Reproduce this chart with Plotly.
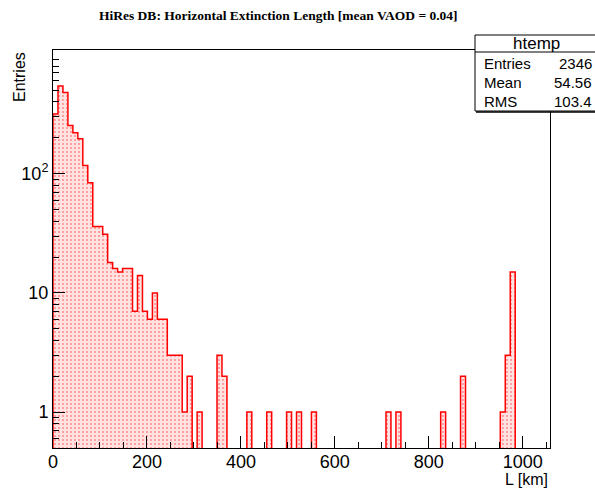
import math
import plotly.graph_objects as go

# ---- data ----
x_min = 0.0
x_max = 1058.0
n_bins = 100
counts = [
    316, 545, 479, 253, 220, 196, 117, 84, 36, 36,
    31, 18, 16, 15, 16, 16, 7, 14, 7, 6,
    10, 6, 6, 3, 3, 3, 1, 2, 0, 1,
    0, 0, 0, 3, 2, 0, 0, 0, 0, 1,
    0, 0, 0, 1, 0, 0, 0, 1, 0, 1,
    0, 0, 1, 0, 0, 0, 0, 0, 0, 0,
    0, 0, 0, 0, 0, 0, 0, 1, 0, 1,
    0, 0, 0, 0, 0, 0, 0, 0, 1, 0,
    0, 0, 2, 0, 0, 0, 0, 0, 0, 0,
    1, 3, 15, 0, 0, 0, 0, 0, 0, 0,
]
x_ticks = [0, 200, 400, 600, 800, 1000]
y_ticks = [1, 10, 100]
y_tick_labels = ["1", "10", "10<sup>2</sup>"]
title_text = "HiRes DB: Horizontal Extinction Length [mean VAOD = 0.04]"
stats_name = "htemp"
stats_labels = ["Entries", "Mean", "RMS"]
stats_values = ["2346", "54.56", "103.4"]
y_lo, y_hi = 0.5, 1090.0

# ---- derived geometry ----
W, H = 595, 488
ML, MR, MT, MB = 53, 45, 50, 40
PW, PH = W - ML - MR, H - MT - MB

def px(xp):
    return (xp - ML) / PW

def py(yp):
    return (H - MB - yp) / PH

bw = (x_max - x_min) / n_bins
edges = [x_min + i * bw for i in range(n_bins + 1)]
centers = [x_min + (i + 0.5) * bw for i in range(n_bins)]
bar_y = [c if c > 0 else None for c in counts]

low = 0.05
step_x = [edges[0]] + edges[:-1] + [edges[-1]]
step_y = [low] + [c if c > 0 else low for c in counts] + [low]

fig = go.Figure()
fig.add_trace(go.Bar(
    x=centers, y=bar_y, width=bw,
    marker=dict(color="#ffe4e4", line=dict(width=0),
                pattern=dict(shape=".", fgcolor="#ff3a3a", bgcolor="#ffe2e2",
                             size=4, solidity=0.22)),
    showlegend=False, hoverinfo="skip",
))
fig.add_trace(go.Scatter(
    x=step_x, y=step_y, mode="lines", line=dict(color="#ff0000", width=1.5, shape="hv"),
    showlegend=False, hoverinfo="skip",
))

minor_y = []
for d in [0.1, 1, 10, 100, 1000]:
    for k in range(2, 10):
        v = k * d
        if y_lo <= v <= y_hi:
            minor_y.append(v)

axis_font = dict(family="Liberation Sans, Arial, sans-serif", size=18, color="black")
fig.update_layout(
    width=W, height=H,
    margin=dict(l=ML, r=MR, t=MT, b=MB),
    paper_bgcolor="white", plot_bgcolor="white",
    bargap=0,
    xaxis=dict(range=[x_min, x_max], tickvals=x_ticks, ticks="inside", ticklen=12,
               tickcolor="black", showline=True, linecolor="black", linewidth=1,
               mirror=True, showgrid=False, zeroline=False, tickfont=axis_font,
               ticklabelstandoff=-3,
               minor=dict(dtick=50, tick0=0, ticks="inside", ticklen=6, tickcolor="black",
                          showgrid=False)),
    yaxis=dict(type="log", range=[math.log10(y_lo), math.log10(y_hi)],
               tickvals=y_ticks, ticktext=y_tick_labels, ticks="inside", ticklen=12,
               tickcolor="black", showline=True, linecolor="black", linewidth=1,
               mirror=True, showgrid=False, zeroline=False, tickfont=axis_font,
               minor=dict(tickvals=minor_y, ticks="inside", ticklen=6, tickcolor="black",
                          showgrid=False)),
)

ann = []
ann.append(dict(text="<b>" + title_text + "</b>", x=px(278), y=py(15), xref="paper", yref="paper",
                xanchor="center", yanchor="middle", showarrow=False,
                font=dict(family="Liberation Serif, Times New Roman, serif", size=13.5, color="black")))
ann.append(dict(text="Entries", x=px(19), y=py(50), xref="paper", yref="paper",
                xanchor="center", yanchor="top", textangle=-90, showarrow=False,
                font=dict(family="Liberation Sans, Arial, sans-serif", size=16, color="black")))
ann.append(dict(text="L [km]", x=px(550), y=py(479), xref="paper", yref="paper",
                xanchor="right", yanchor="middle", showarrow=False,
                font=dict(family="Liberation Sans, Arial, sans-serif", size=16, color="black")))

# stats box
bx0, bx1, by0, by1, bsep = 475, 596, 35, 111, 52
shapes = [
    dict(type="rect", xref="paper", yref="paper", x0=px(bx0), x1=px(bx1), y0=py(by1), y1=py(by0),
         fillcolor="white", line=dict(color="black", width=1), layer="above"),
    dict(type="line", xref="paper", yref="paper", x0=px(bx0), x1=px(bx1), y0=py(bsep), y1=py(bsep),
         line=dict(color="black", width=1), layer="above"),
    dict(type="line", xref="paper", yref="paper", x0=px(bx0 + 1), x1=px(bx1), y0=py(by1 + 1), y1=py(by1 + 1),
         line=dict(color="black", width=1.5), layer="above"),
]
hfont = dict(family="Liberation Sans, Arial, sans-serif", size=17, color="black")
sfont = dict(family="Liberation Sans Narrow, Arial Narrow, Liberation Sans, sans-serif", size=15, color="black")
ann.append(dict(text=stats_name, x=px(536), y=py(43.5), xref="paper", yref="paper",
                xanchor="center", yanchor="middle", showarrow=False, font=hfont))
for i, (lab, val) in enumerate(zip(stats_labels, stats_values)):
    yy = 63.5 + i * 19
    ann.append(dict(text=lab, x=px(482), y=py(yy), xref="paper", yref="paper",
                    xanchor="left", yanchor="middle", showarrow=False, font=sfont))
    ann.append(dict(text=val, x=px(594), y=py(yy), xref="paper", yref="paper",
                    xanchor="right", yanchor="middle", showarrow=False, font=sfont))

fig.update_layout(annotations=ann, shapes=shapes)
fig.write_html("out.html")
